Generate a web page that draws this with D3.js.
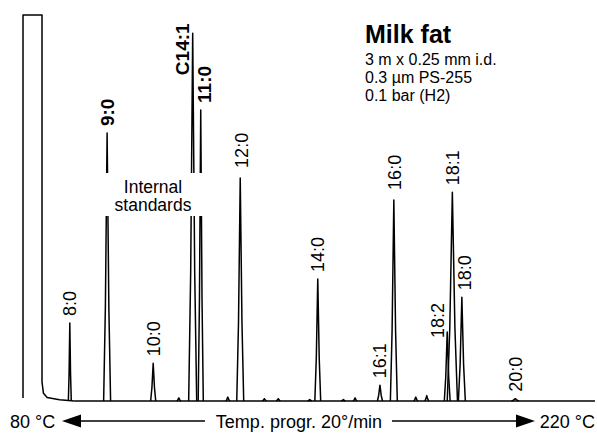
<!DOCTYPE html>
<html>
<head>
<meta charset="utf-8">
<script src="https://cdn.jsdelivr.net/npm/d3@7"></script>
<style>
  body { margin: 0; background: #fff; }
  svg { display: block; font-family: "Liberation Sans", Arial, Helvetica, sans-serif; }
</style>
</head>
<body>
<svg width="597" height="433"></svg>
<script>
// peaks of the milk fat chromatogram (time in min, detector response in % of full scale)
const peakNames = ["8:0", "9:0", "10:0", "C14:1", "11:0", "12:0", "14:0", "16:1", "16:0", "18:2", "18:1", "18:0", "20:0"];
const retention = [0.64, 1.15, 1.78, 2.32, 2.43, 2.97, 4.03, 4.88, 5.07, 5.80, 5.87, 6.00, 6.73];
const response = [20.2, 69.4, 9.8, 95.3, 75.4, 57.8, 31.6, 4.1, 52.1, 17.9, 54.1, 26.9, 0.6];
const baseWidth = [0.04, 0.095, 0.07, 0.11, 0.07, 0.095, 0.08, 0.07, 0.095, 0.08, 0.14, 0.095, 0.1];
const internalStd = ["9:0", "C14:1", "11:0"];

// small unlabelled bumps
const minorTimes = [2.13, 2.80, 3.30, 3.49, 3.92, 4.38, 4.54, 5.37, 5.52];
const minorResp = [0.8, 1.0, 0.6, 0.6, 0.4, 0.4, 0.8, 1.0, 1.4];

// solvent peak (off scale) and its tail
const solventTime = [0, 0, 0.26, 0.26, 0.28, 0.33, 0.5, 0.7];
const solventResp = [0.8, 100, 100, 4.9, 2.0, 0.9, 0.3, 0];

const runEnd = 7.82;
const title = "Milk fat";
const conditions = ["3 m x 0.25 mm i.d.", "0.3 \u00b5m PS-255", "0.1 bar (H2)"];
const noteLines = ["Internal", "standards"];
const tempStart = "80 \u00b0C", tempEnd = "220 \u00b0C", program = "Temp. progr. 20\u00b0/min";

const svg = d3.select("svg");
const x = d3.scaleLinear().domain([0, 7]).range([23, 535]);
const y = d3.scaleLinear().domain([0, 100]).range([401, 15]);

const line = d3.line().x(d => x(d[0])).y(d => y(d[1]));

// peak outline: flared foot, narrow top
function peakPts(t, h, w) {
  return [[t - w / 2, 0], [t - w / 4, h * 0.35], [t, h], [t + w / 4, h * 0.35], [t + w / 2, 0]];
}

const trace = svg.append("g")
  .attr("fill", "none")
  .attr("stroke", "#000")
  .attr("stroke-width", 1.5)
  .attr("stroke-linejoin", "round");

trace.append("path")
  .attr("d", line(solventTime.map((t, i) => [t, solventResp[i]])));

trace.append("path")
  .attr("d", line([[0.7, 0], [runEnd, 0]]));

trace.selectAll(".minor")
  .data(minorTimes)
  .enter().append("path")
  .attr("class", "minor")
  .attr("d", (t, i) => line(peakPts(t, minorResp[i], 0.055)));

trace.selectAll(".peak")
  .data(peakNames)
  .enter().append("path")
  .attr("class", "peak")
  .attr("d", (d, i) => line(peakPts(retention[i], response[i], baseWidth[i])));

// "Internal standards" note sits on a white patch over the peaks
const note = svg.append("g");
note.append("rect")
  .attr("x", 100).attr("y", 173)
  .attr("width", 105).attr("height", 43)
  .attr("fill", "#fff");
note.selectAll("text")
  .data(noteLines)
  .enter().append("text")
  .attr("x", 153)
  .attr("y", (d, i) => 193 + i * 18)
  .attr("text-anchor", "middle")
  .attr("font-size", 17.5)
  .text(d => d);

// peak labels, rotated; a few sit beside their peak
const labelShift = { "C14:1": [-11, 49], "11:0": [3, 0], "18:2": [-10, 13], "18:0": [3, 0], "12:0": [1, -3], "16:0": [1, -3] };
svg.append("g").selectAll("text")
  .data(peakNames)
  .enter().append("text")
  .attr("transform", (d, i) => {
    const s = labelShift[d] || [0, 0];
    return `translate(${x(retention[i]) + s[0]},${y(response[i]) - 7 + s[1]}) rotate(-90)`;
  })
  .attr("dy", "0.36em")
  .attr("font-size", d => internalStd.includes(d) ? 19 : 18)
  .attr("font-weight", d => internalStd.includes(d) ? "bold" : "normal")
  .text(d => d);

// header
svg.append("text")
  .attr("x", 365).attr("y", 43)
  .attr("font-size", 25).attr("font-weight", "bold")
  .text(title);
svg.append("g").selectAll("text")
  .data(conditions)
  .enter().append("text")
  .attr("x", 365)
  .attr("y", (d, i) => 65 + i * 18)
  .attr("font-size", 16)
  .text(d => d);

// temperature programme arrow
const ay = 421;
const foot = svg.append("g").attr("font-size", 18);
foot.append("text").attr("x", 10).attr("y", 428).text(tempStart);
foot.append("text").attr("x", 595).attr("y", 428).attr("text-anchor", "end").text(tempEnd);
foot.append("text").attr("x", 299).attr("y", 428).attr("text-anchor", "middle").text(program);
foot.append("line").attr("x1", 78).attr("x2", 205).attr("y1", ay).attr("y2", ay)
  .attr("stroke", "#000").attr("stroke-width", 1.6);
foot.append("line").attr("x1", 392).attr("x2", 520).attr("y1", ay).attr("y2", ay)
  .attr("stroke", "#000").attr("stroke-width", 1.6);
foot.append("path").attr("d", `M62,${ay}L81,${ay - 6.5}L81,${ay + 6.5}Z`);
foot.append("path").attr("d", `M535,${ay}L516,${ay - 6.5}L516,${ay + 6.5}Z`);
</script>
</body>
</html>
